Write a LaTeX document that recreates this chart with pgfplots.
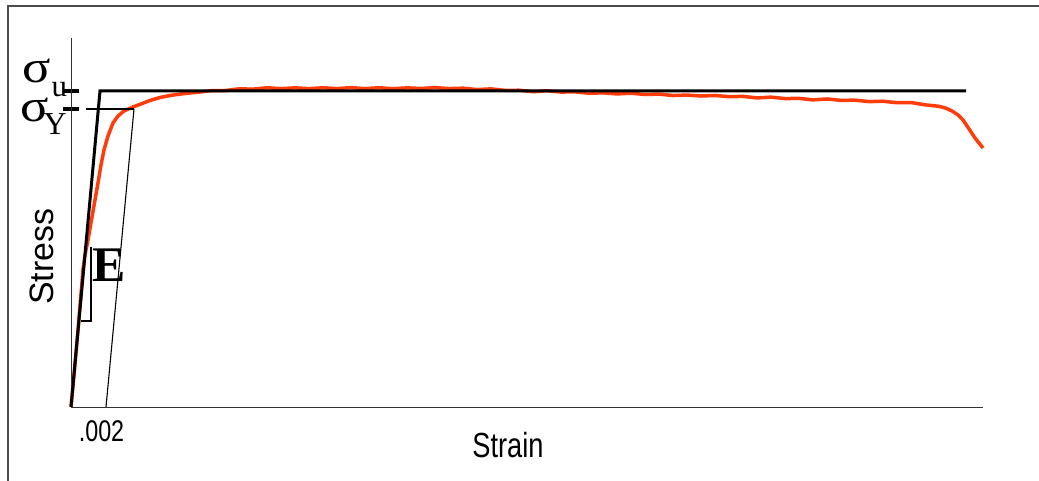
\documentclass[border=0pt]{standalone}
\usepackage{fontspec}
\setmainfont{Liberation Sans}
\newfontfamily\greekserif{Liberation Serif}
\newfontfamily\greekwide{Liberation Serif}[FakeStretch=1.15]
\newfontfamily\narrowsans{Liberation Sans}[FakeStretch=0.78]
\usepackage{pgfplots}
\pgfplotsset{compat=1.18}

\definecolor{clrCurve}{HTML}{FF3C0A}

\begin{document}
\begin{tikzpicture}
    \useasboundingbox (0,0) rectangle (1039bp,481bp);
    % slide frame (top and left edges only)
    \draw[black!70, line width=1.2bp] (1040bp,475bp) -- (8bp,475bp) -- (8bp,-1bp);

    \begin{axis}[
        at={(71bp,74bp)}, anchor=south west,
        scale only axis,
        width=912bp, height=369bp,
        xmin=0, xmax=52.114,
        ymin=0, ymax=116.77,
        axis lines=left,
        axis line style={-, black!80, line width=1bp},
        xtick=\empty,
        ytick={94.30,100},
        yticklabels={},
        major tick length=16bp,
        tick align=center,
        ytick style={black, line width=3.5bp},
        clip=false,
    ]
    % x: strain in units of 0.001, y: stress in percent of sigma_u
    \addplot[clrCurve, line width=3.5bp, line join=round] coordinates {
        (0,0) (0.2,11.71) (0.4,24.37) (0.543,33.86) (0.686,43.35) (0.8,48.10)
        (0.971,52.85) (1.2,60.13) (1.371,65.51) (1.543,70.89) (1.714,76.58)
        (1.886,81.33) (2.114,85.76) (2.4,89.87) (2.686,92.09) (3.029,93.67)
        (3.543,94.94) (4.0,95.89) (4.514,97.0) (5.086,97.94) (5.657,98.58)
        (6.514,99.21) (7.371,99.68)
        (8.0,100.09) (8.8,100.14) (9.6,100.68) (10.4,100.59) (11.2,101.02)
        (12.0,100.75) (12.8,101.00) (13.6,100.74) (14.4,101.02) (15.2,100.76)
        (16.0,101.07) (16.8,100.76) (17.6,101.03) (18.4,100.72) (19.2,100.99)
        (20.0,100.80) (20.8,101.08) (21.6,100.76) (22.4,100.89) (23.2,100.45)
        (24.0,100.67) (24.8,100.20) (25.6,100.24) (26.4,99.77) (27.2,100.07)
        (28.0,99.66) (28.8,99.73) (29.6,99.28) (30.4,99.41) (31.2,99.07)
        (32.0,99.30) (32.8,98.89) (33.6,99.02) (34.4,98.56) (35.2,98.71)
        (36.0,98.41) (36.8,98.58) (37.6,98.20) (38.4,98.29) (39.2,97.81)
        (40.0,98.05) (40.8,97.60) (41.6,97.66) (42.4,97.19) (43.2,97.47)
        (44.0,97.04) (44.8,97.09) (45.6,96.64) (46.4,96.76) (47.2,96.29)
        (48.0,96.35) (48.8,95.62) (49.6,95.15) (50.0,94.55)
        (50.343,93.67) (50.686,92.41) (50.971,90.82) (51.2,88.92) (51.429,87.03)
        (51.657,85.13) (51.886,83.54) (52.114,81.96)
    };
    % idealised elastic-perfectly plastic line
    \addplot[black, line width=3bp, line join=miter] coordinates {
        (0,0) (1.657,100) (51.143,100)
    };
    % 0.2% offset line
    \addplot[black, line width=1.1bp] coordinates {(2,0) (3.6,94.30)};
    % yield level
    \addplot[black, line width=1.1bp] coordinates {(0.857,94.30) (3.6,94.30)};
    % slope triangle for E
    \addplot[black, line width=1.1bp] coordinates {(0.571,27.22) (1.143,27.22) (1.143,50.63)};

    % sigma_u and sigma_Y labels, subscripts set with the symbol
    \node[inner sep=0, anchor=base west] at (axis cs:-2.8,102.53)
        {{\greekwide\fontsize{46}{46}\selectfont σ}\kern1bp\raisebox{-14bp}{\greekserif\fontsize{31}{31}\selectfont u}};
    \node[inner sep=0, anchor=base west] at (axis cs:-2.914,90.19)
        {{\greekwide\fontsize{46}{46}\selectfont σ}\kern-5bp\raisebox{-13bp}{\greekserif\fontsize{32}{32}\selectfont Y}};
    \node[inner sep=0] at (axis cs:2.171,44.94)
        {\greekserif\bfseries\fontsize{50}{50}\selectfont E};

    \node[inner sep=0, rotate=90] at (axis cs:-1.657,47.47)
        {\fontsize{34}{34}\selectfont Stress};
    \node[inner sep=0] at (axis cs:24.97,-12.03)
        {\narrowsans\fontsize{35}{35}\selectfont Strain};
    \node[inner sep=0] at (axis cs:1.743,-7.59)
        {\narrowsans\fontsize{30}{30}\selectfont .002};
    \end{axis}
\end{tikzpicture}
\end{document}
